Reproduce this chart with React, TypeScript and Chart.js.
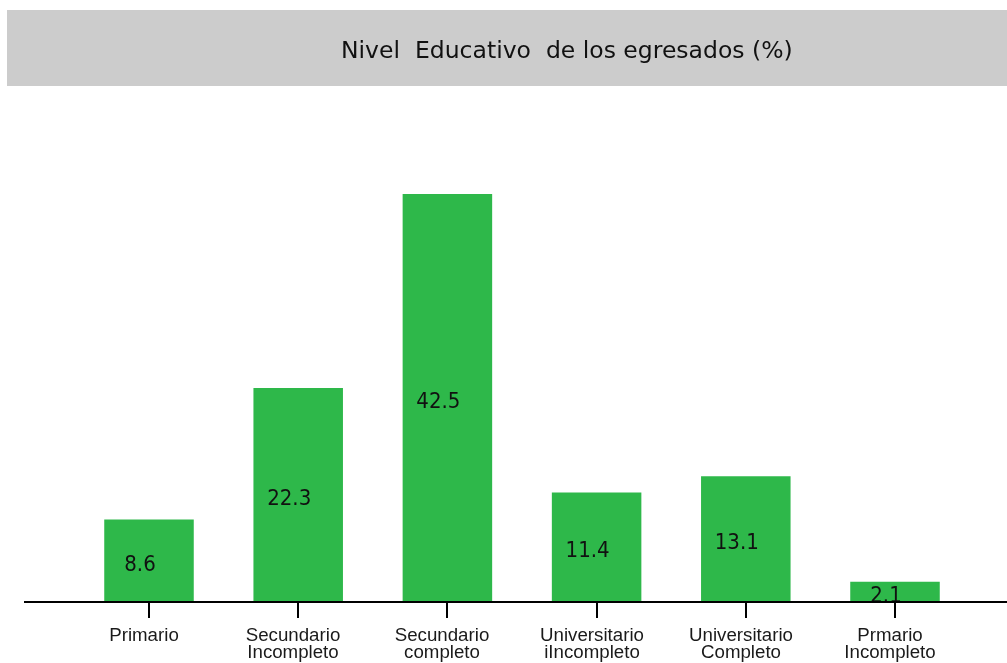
import React, { useEffect, useRef } from "react";
import { Chart, registerables } from "chart.js";

Chart.register(...registerables);

const chartTitle = "Nivel  Educativo  de los egresados (%)";
const categories: string[][] = [
  ["Primario"],
  ["Secundario", "Incompleto"],
  ["Secundario", "completo"],
  ["Universitario", "iIncompleto"],
  ["Universitario", "Completo"],
  ["Prmario", "Incompleto"],
];
const values: number[] = [8.6, 22.3, 42.5, 11.4, 13.1, 2.1];
const valueLabels: string[] = ["8.6", "22.3", "42.5", "11.4", "13.1", "2.1"];

const BAR_COLOR = "rgb(46,184,74)";

const decorPlugin = {
  id: "decor",
  beforeDraw(chart: any) {
    const ctx = chart.ctx;
    ctx.save();
    // title band
    ctx.fillStyle = "#cccccc";
    ctx.fillRect(7, 10, 1000, 76);
    ctx.fillStyle = "#111111";
    ctx.font = '23.5px "DejaVu Sans", sans-serif';
    ctx.textAlign = "left";
    ctx.textBaseline = "alphabetic";
    ctx.fillText(chartTitle, 341, 58);
    ctx.restore();
  },
  afterDatasetsDraw(chart: any) {
    const ctx = chart.ctx;
    const xs = chart.scales.x;
    const ys = chart.scales.y;
    const base = ys.getPixelForValue(0);
    ctx.save();
    // value labels
    ctx.fillStyle = "#111111";
    ctx.font = '22px "DejaVu Sans Condensed", "DejaVu Sans", sans-serif';
    ctx.textAlign = "center";
    ctx.textBaseline = "middle";
    const meta = chart.getDatasetMeta(0);
    meta.data.forEach((bar: any, i: number) => {
      const top = ys.getPixelForValue(values[i]);
      ctx.fillText(valueLabels[i], bar.x - 9, (top + base) / 2 + 4.5);
    });
    // axis baseline
    ctx.fillStyle = "#000000";
    ctx.fillRect(24, base - 1, 1007 - 24, 2);
    // ticks and tick labels
    ctx.font = '18.7px "Liberation Sans", Arial, sans-serif';
    ctx.textBaseline = "alphabetic";
    categories.forEach((lines, i) => {
      const x = Math.round(xs.getPixelForValue(i));
      ctx.fillStyle = "#000000";
      ctx.fillRect(x - 1, base, 2, 16);
      ctx.fillStyle = "#1a1a1a";
      lines.forEach((ln, j) => {
        ctx.fillText(ln, x - 5, 640.5 + j * 17.5);
      });
    });
    ctx.restore();
  },
};

export default function App() {
  const ref = useRef<HTMLCanvasElement | null>(null);
  useEffect(() => {
    if (!ref.current) return;
    const chart = new Chart(ref.current, {
      type: "bar",
      data: {
        labels: categories.map((c) => c.join(" ")),
        datasets: [
          {
            data: values,
            backgroundColor: BAR_COLOR,
            borderWidth: 0,
            barPercentage: 0.6,
            categoryPercentage: 1,
          },
        ],
      },
      options: {
        animation: false,
        responsive: false,
        layout: { padding: { left: 74.4, right: 37.4, top: 122, bottom: 61 } },
        plugins: {
          legend: { display: false },
          tooltip: { enabled: false },
          title: { display: false },
        },
        scales: {
          x: { display: false },
          y: { display: false, min: 0, max: 50 },
        },
      },
      plugins: [decorPlugin],
    });
    return () => chart.destroy();
  }, []);
  return (
    <div style={{ position: "absolute", left: 0, top: 0, width: 1007, height: 663, background: "#ffffff" }}>
      <canvas ref={ref} width={1007} height={663} style={{ width: 1007, height: 663, display: "block" }} />
    </div>
  );
}
